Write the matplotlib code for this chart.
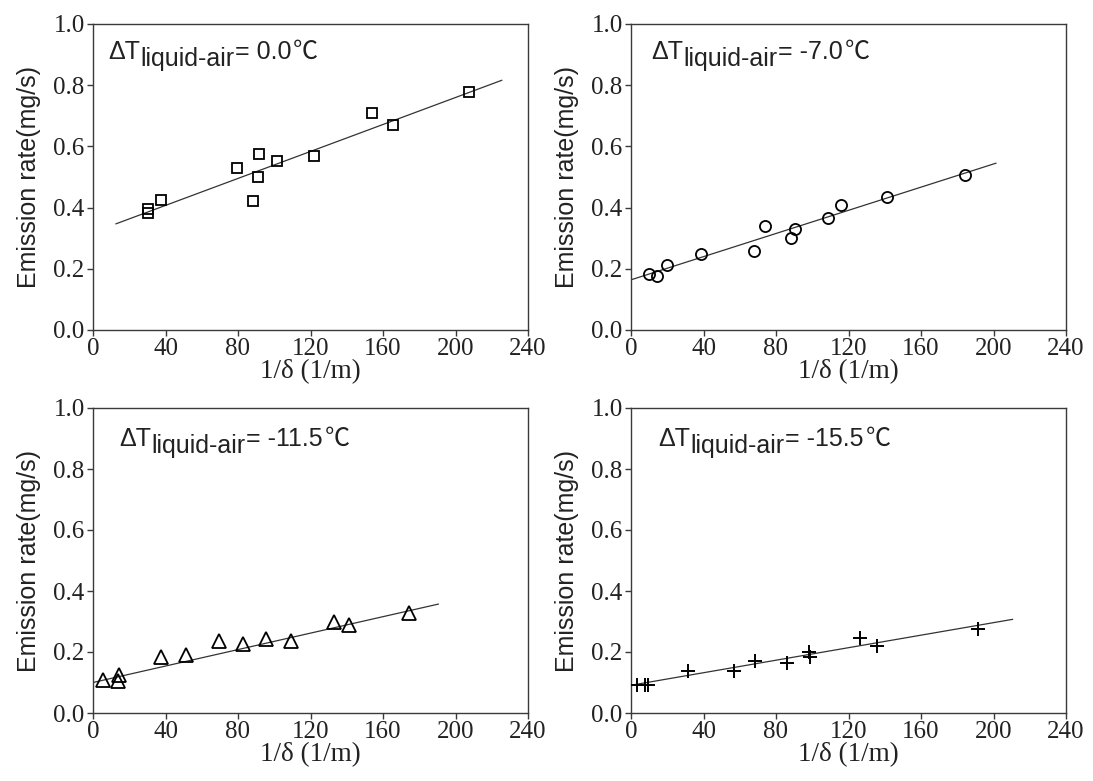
import matplotlib
matplotlib.use("Agg")
import matplotlib.pyplot as plt
from matplotlib.transforms import offset_copy

# ---------------- data ----------------
x_p1 = [30.5, 30.5, 37.5, 79.3, 91.6, 90.9, 88.3, 101.3, 122.1, 153.7, 165.5, 207.3]
y_p1 = [0.396, 0.383, 0.426, 0.528, 0.576, 0.499, 0.423, 0.551, 0.570, 0.710, 0.670, 0.779]
fit_x_p1 = [12.7, 225.5]
fit_y_p1 = [0.347, 0.816]

x_p2 = [9.7, 14.5, 20.0, 38.5, 67.7, 73.8, 88.1, 90.3, 108.8, 115.6, 141.1, 184.0]
y_p2 = [0.184, 0.175, 0.213, 0.250, 0.257, 0.341, 0.302, 0.330, 0.367, 0.409, 0.436, 0.507]
fit_x_p2 = [0.0, 201.3]
fit_y_p2 = [0.164, 0.545]

x_p3 = [5.3, 14.0, 14.5, 37.5, 51.1, 69.7, 82.9, 95.4, 109.1, 133.1, 141.4, 174.2]
y_p3 = [0.108, 0.106, 0.124, 0.182, 0.190, 0.237, 0.227, 0.243, 0.235, 0.300, 0.289, 0.329]
fit_x_p3 = [0.0, 190.5]
fit_y_p3 = [0.100, 0.357]

x_p4 = [3.5, 7.7, 9.5, 31.5, 56.7, 68.3, 86.0, 98.0, 98.5, 126.1, 135.6, 191.4]
y_p4 = [0.093, 0.091, 0.091, 0.139, 0.139, 0.169, 0.164, 0.201, 0.184, 0.245, 0.221, 0.276]
fit_x_p4 = [0.0, 210.5]
fit_y_p4 = [0.091, 0.307]

delta_labels = ["0.0", "-7.0", "-11.5", "-15.5"]
x_ticks = [0, 40, 80, 120, 160, 200, 240]
y_ticks = [0.0, 0.2, 0.4, 0.6, 0.8, 1.0]
x_label = "1/\u03b4 (1/m)"
y_label = "Emission rate(mg/s)"

# ---------------- figure ----------------
W, H = 1093, 781
fig = plt.figure(figsize=(W / 100, H / 100), dpi=100)

serif = ["Liberation Serif", "DejaVu Serif"]
sans = ["Liberation Sans", "Noto Sans CJK SC", "DejaVu Sans"]
cjk = ["Noto Sans CJK SC", "DejaVu Sans"]

# axes boxes in pixels: left, top, right, bottom
boxes = [(93, 24, 528, 330), (631, 24, 1066, 330),
         (93, 408, 528, 713), (631, 408, 1066, 713)]

panels = [
    (x_p1, y_p1, fit_x_p1, fit_y_p1, dict(marker="s", ms=7.5, mew=1.3)),
    (x_p2, y_p2, fit_x_p2, fit_y_p2, dict(marker="o", ms=8.0, mew=1.3)),
    (x_p3, y_p3, fit_x_p3, fit_y_p3, dict(marker="^", ms=9.5, mew=1.3)),
    (x_p4, y_p4, fit_x_p4, fit_y_p4, dict(marker="+", ms=10.0, mew=1.4)),
]
label_pos = [(0.034, 0.885), (0.046, 0.885), (0.060, 0.875), (0.062, 0.875)]

spine_col = "#3a3a3a"
txt_col = "#222222"
axes = []
for i, (l, t, r, b) in enumerate(boxes):
    ax = fig.add_axes([l / W, (H - b) / H, (r - l) / W, (b - t) / H])
    axes.append(ax)
    xs, ys, fx, fy, mk = panels[i]
    ax.plot(fx, fy, color="#333333", lw=0.9, zorder=2)
    ax.plot(xs, ys, linestyle="none", mfc="none", mec="black", zorder=3, **mk)
    ax.set_xlim(0, 240)
    ax.set_ylim(0, 1.0)
    ax.set_xticks(x_ticks)
    ax.set_yticks(y_ticks)
    ax.set_xticklabels([str(v) for v in x_ticks], family=serif, fontsize=18, color=txt_col)
    ax.set_yticklabels([f"{v:.1f}" for v in y_ticks], family=serif, fontsize=18, color=txt_col)
    ax.tick_params(direction="out", length=4.5, width=1.0, color=spine_col, pad=1.5,
                   top=False, right=False)
    for s in ax.spines.values():
        s.set_color(spine_col)
        s.set_linewidth(1.0)
    ax.set_xlabel(x_label, family=serif, fontsize=19.5, color=txt_col, labelpad=-1)
    ax.set_ylabel(y_label, family=sans, fontsize=18, color=txt_col, labelpad=9)

# annotation  "ΔT_liquid-air= X℃"
fig.canvas.draw()
renderer = fig.canvas.get_renderer()
fs = 18
for i, ax in enumerate(axes):
    px, py = label_pos[i]
    t1 = ax.text(px, py, "\u0394T", transform=ax.transAxes, family=sans,
                 fontsize=fs, color=txt_col, va="baseline")
    w1 = t1.get_window_extent(renderer).width
    tr2 = offset_copy(ax.transAxes, fig=fig, x=w1 * 0.72 + 0.5, y=-5, units="points")
    t2 = ax.text(px, py, "liquid-air", transform=tr2, family=sans,
                 fontsize=fs, color=txt_col, va="baseline")
    w2 = t2.get_window_extent(renderer).width
    tr3 = offset_copy(ax.transAxes, fig=fig, x=(w1 + w2) * 0.72 + 0.5, y=0, units="points")
    t3 = ax.text(px, py, "= " + delta_labels[i], transform=tr3, family=sans,
                 fontsize=fs, color=txt_col, va="baseline")
    w3 = t3.get_window_extent(renderer).width
    tr4 = offset_copy(ax.transAxes, fig=fig, x=(w1 + w2 + w3) * 0.72 + 2.0, y=0, units="points")
    ax.text(px, py, "\u2103", transform=tr4, family=cjk,
            fontsize=fs, color=txt_col, va="baseline")

fig.savefig("out.png", dpi=100)
